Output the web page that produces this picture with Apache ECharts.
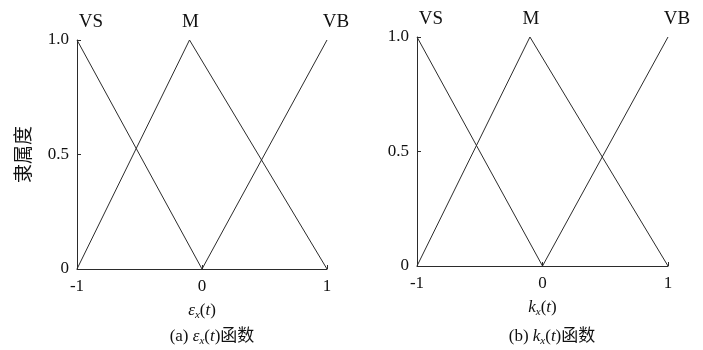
<!DOCTYPE html>
<html>
<head>
<meta charset="utf-8">
<script src="https://cdn.jsdelivr.net/npm/echarts@6/dist/echarts.min.js"></script>
<style>
  html, body { margin: 0; padding: 0; background: #fff; }
  #chart { width: 703px; height: 350px; }
</style>
</head>
<body>
<div id="chart"></div>
<script>
// Triangular membership functions, same shape for both inputs
const setNames = ['VS', 'M', 'VB'];
const vsPoints = [[-1, 1], [0, 0]];
const mPoints = [[-1, 0], [-0.1, 1], [1, 0]];
const vbPoints = [[0, 0], [1, 1]];
const xTicks = [-1, 0, 1];
const yTicks = [0, 0.5, 1];
const yLabelText = { '0': '0', '0.5': '0.5', '1': '1.0' };

const serif = '"Liberation Serif", "Times New Roman", "Noto Sans CJK SC", serif';
const lineColor = '#2b2b2b';

const chart = echarts.init(document.getElementById('chart'), null, { renderer: 'canvas' });

const grids = [
  { left: 77, top: 40, width: 250, height: 229 },
  { left: 417, top: 37, width: 251, height: 229 }
];

function varName(letter) {
  return '{i|' + letter + '}{s|x}{n|(}{i|t}{n|)}';
}
const richVar = {
  i: { fontFamily: serif, fontStyle: 'italic', fontSize: 17, color: '#111' },
  n: { fontFamily: serif, fontSize: 17, color: '#111' },
  s: { fontFamily: serif, fontStyle: 'italic', fontSize: 11, color: '#111', padding: [9, 0, 0, 0] }
};

function xAxisFor(gi, letter) {
  return {
    type: 'value', gridIndex: gi, min: -1, max: 1, interval: 1,
    axisLine: { show: true, onZero: false, lineStyle: { color: lineColor, width: 1 } },
    axisTick: { show: true, inside: true, length: 4, lineStyle: { color: lineColor } },
    splitLine: { show: false },
    axisLabel: { fontFamily: serif, fontSize: 17, color: '#111', margin: 9,
      formatter: v => xTicks.indexOf(v) >= 0 ? String(v) : '' },
    name: varName(letter),
    nameLocation: 'middle', nameGap: 32,
    nameTextStyle: { rich: richVar }
  };
}
function yAxisFor(gi, withName) {
  return {
    type: 'value', gridIndex: gi, min: 0, max: 1, interval: 0.5,
    axisLine: { show: true, onZero: false, lineStyle: { color: lineColor, width: 1 } },
    axisTick: { show: true, inside: true, length: 4, lineStyle: { color: lineColor } },
    splitLine: { show: false },
    axisLabel: { fontFamily: serif, fontSize: 17, color: '#111', margin: 8,
      formatter: v => yLabelText[String(v)] },
    name: withName ? '隶属度' : '',
    nameLocation: 'middle', nameGap: 45, nameRotate: 90,
    nameTextStyle: { fontFamily: '"Noto Sans CJK SC", serif', fontSize: 19, color: '#111' }
  };
}

function setSeries(gi, name, pts, labelIdx, offset) {
  return {
    type: 'line', name: name, xAxisIndex: gi, yAxisIndex: gi,
    data: pts,
    symbol: 'circle', symbolSize: 1, showSymbol: true, showAllSymbol: true,
    itemStyle: { color: 'rgba(0,0,0,0)', borderWidth: 0 },
    label: {
      show: true, position: 'top', distance: 4, offset: offset,
      fontFamily: serif, fontSize: 19, color: '#111',
      formatter: p => p.dataIndex === labelIdx ? name : ''
    },
    silent: true, animation: false,
    lineStyle: { color: lineColor, width: 1 }
  };
}

const series = [];
[0, 1].forEach(gi => {
  series.push(setSeries(gi, setNames[0], vsPoints, 0, [14, -4]));
  series.push(setSeries(gi, setNames[1], mPoints, 1, [1, -4]));
  series.push(setSeries(gi, setNames[2], vbPoints, 1, [9, -4]));
});

chart.setOption({
  backgroundColor: '#fff',
  animation: false,
  grid: grids,
  xAxis: [xAxisFor(0, 'ε'), xAxisFor(1, 'k')],
  yAxis: [yAxisFor(0, true), yAxisFor(1, false)],
  title: [
    { text: '(a) ' + varName('ε') + '函数', left: 207, top: 322, textAlign: 'center',
      textStyle: { fontFamily: serif, fontSize: 17, fontWeight: 'normal', color: '#111', rich: richVar } },
    { text: '(b) ' + varName('k') + '函数', left: 547, top: 322, textAlign: 'center',
      textStyle: { fontFamily: serif, fontSize: 17, fontWeight: 'normal', color: '#111', rich: richVar } }
  ],
  series: series
});
</script>
</body>
</html>
